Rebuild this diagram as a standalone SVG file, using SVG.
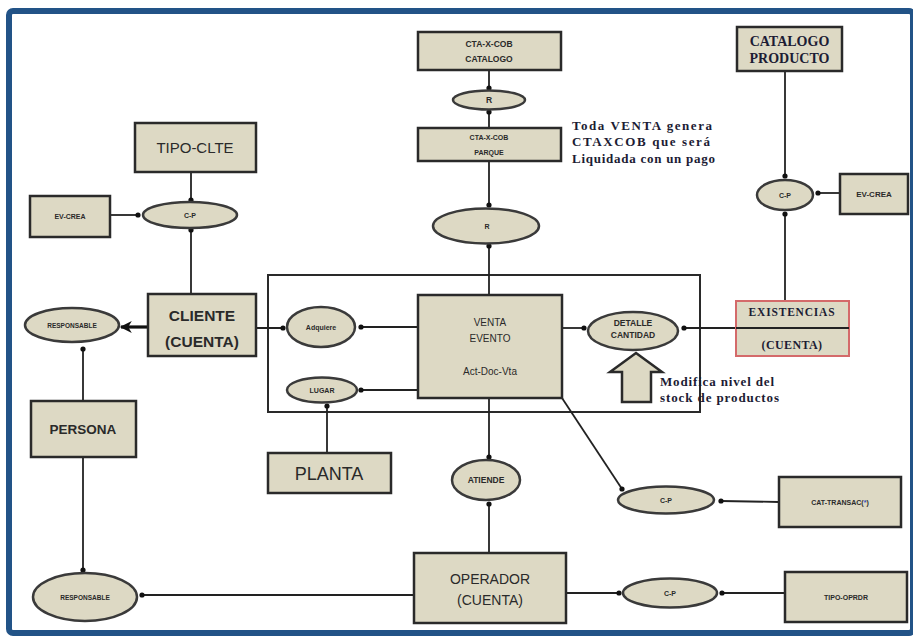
<svg xmlns="http://www.w3.org/2000/svg" width="913" height="637" viewBox="0 0 913 637">
  <style>
    .box { fill: #ddd9c4; stroke: #2a2a2a; stroke-width: 2.5; }
    .ell { fill: #ddd9c4; stroke: #3a3a3a; stroke-width: 2.5; }
    .ln { fill: none; stroke: #222; stroke-width: 1.8; }
    .sans { font-family: "Liberation Sans", Arial, sans-serif; fill: #2a2a2a; text-anchor: middle; }
    .serif { font-family: "Liberation Serif", "Times New Roman", serif; fill: #1c1c34; font-weight: bold; }
    .note { font-size: 13px; }
    .tiny { font-size: 7px; font-weight: bold; }
    .small { font-size: 8.5px; font-weight: bold; }
  </style>
  <defs>
    <marker id="dot" viewBox="0 0 6 6" refX="3" refY="3" markerWidth="6" markerHeight="6" markerUnits="userSpaceOnUse">
      <circle cx="3" cy="3" r="2.6" fill="#111"/>
    </marker>
    <marker id="arrow" viewBox="0 0 10 10" refX="9" refY="5" markerWidth="14" markerHeight="12" markerUnits="userSpaceOnUse" orient="auto">
      <path d="M0,0 L10,5 L0,10 L3,5 Z" fill="#111"/>
    </marker>
  </defs>

  <rect width="913" height="637" fill="#ffffff"/>
  <!-- outer frame -->
  <rect x="9" y="11" width="904" height="622" rx="4" fill="none" stroke="#225387" stroke-width="6"/>

  <!-- sale context border -->
  <rect x="268" y="275" width="432" height="137" fill="none" stroke="#2a2a2a" stroke-width="2"/>

  <!-- connectors -->
  <g id="connectors">
    <line class="ln" x1="489" y1="70" x2="489" y2="88" marker-end="url(#dot)"/>
    <line class="ln" x1="489" y1="128" x2="489" y2="112" marker-end="url(#dot)"/>
    <line class="ln" x1="489" y1="161" x2="489" y2="205" marker-end="url(#dot)"/>
    <line class="ln" x1="489" y1="295" x2="489" y2="246" marker-end="url(#dot)"/>
    <line class="ln" x1="191" y1="172" x2="191" y2="200" marker-end="url(#dot)"/>
    <line class="ln" x1="110" y1="215" x2="138" y2="215" marker-end="url(#dot)"/>
    <line class="ln" x1="191" y1="294" x2="191" y2="230" marker-end="url(#dot)"/>
    <line x1="148" y1="327" x2="121" y2="327" stroke="#111" stroke-width="3.2" marker-end="url(#arrow)"/>
    <line class="ln" x1="156" y1="328" x2="283" y2="328" marker-end="url(#dot)"/>
    <line class="ln" x1="418" y1="327" x2="361" y2="327" marker-end="url(#dot)"/>
    <line class="ln" x1="418" y1="390" x2="361" y2="390" marker-end="url(#dot)"/>
    <line class="ln" x1="327" y1="453" x2="327" y2="406" marker-end="url(#dot)"/>
    <line class="ln" x1="83" y1="401" x2="83" y2="349" marker-end="url(#dot)"/>
    <line class="ln" x1="83" y1="457" x2="83" y2="570" marker-end="url(#dot)"/>
    <line class="ln" x1="414" y1="595" x2="142" y2="595" marker-end="url(#dot)"/>
    <line class="ln" x1="489" y1="398" x2="489" y2="457" marker-end="url(#dot)"/>
    <line class="ln" x1="489" y1="553" x2="489" y2="504" marker-end="url(#dot)"/>
    <line class="ln" x1="562" y1="328" x2="584" y2="328" marker-end="url(#dot)"/>
    <line class="ln" x1="848" y1="328" x2="684" y2="328" marker-end="url(#dot)"/>
    <line class="ln" x1="785" y1="71" x2="785" y2="176" marker-end="url(#dot)"/>
    <line class="ln" x1="840" y1="193" x2="818" y2="193" marker-end="url(#dot)"/>
    <line class="ln" x1="785" y1="301" x2="785" y2="214" marker-end="url(#dot)"/>
    <line class="ln" x1="562" y1="398" x2="622" y2="489" marker-end="url(#dot)"/>
    <line class="ln" x1="779" y1="502" x2="721" y2="501" marker-end="url(#dot)"/>
    <line class="ln" x1="566" y1="593" x2="619" y2="593" marker-end="url(#dot)"/>
    <line class="ln" x1="785" y1="593" x2="722" y2="593" marker-end="url(#dot)"/>
  </g>

  <!-- top column -->
  <g id="cta-catalogo">
    <rect class="box" x="418" y="32" width="143" height="38"/>
    <text class="sans small" x="489" y="47">CTA-X-COB</text>
    <text class="sans small" x="489" y="62">CATALOGO</text>
  </g>
  <g id="r-top">
    <ellipse class="ell" cx="489" cy="100" rx="36" ry="9.5"/>
    <text class="sans small" x="489" y="103">R</text>
  </g>
  <g id="cta-parque">
    <rect class="box" x="418" y="128" width="143" height="33"/>
    <text class="sans tiny" x="489" y="140">CTA-X-COB</text>
    <text class="sans tiny" x="489" y="155">PARQUE</text>
  </g>
  <g id="note-venta">
    <text class="serif note" x="572" y="130" textLength="140" lengthAdjust="spacing">Toda VENTA genera</text>
    <text class="serif note" x="572" y="146" textLength="138" lengthAdjust="spacing">CTAXCOB  que será</text>
    <text class="serif note" x="572" y="163" textLength="143" lengthAdjust="spacing">Liquidada   con un pago</text>
  </g>
  <g id="r-mid">
    <ellipse class="ell" cx="486" cy="226" rx="53" ry="17.5"/>
    <text class="sans tiny" x="487" y="229">R</text>
  </g>

  <!-- left side -->
  <g id="tipo-clte">
    <rect class="box" x="135" y="123" width="121" height="49"/>
    <text class="sans" font-size="15" x="195" y="153">TIPO-CLTE</text>
  </g>
  <g id="ev-crea-left">
    <rect class="box" x="30" y="196" width="80" height="41"/>
    <text class="sans tiny" x="70" y="219">EV-CREA</text>
  </g>
  <g id="cp-cliente">
    <ellipse class="ell" cx="190" cy="215" rx="47" ry="13"/>
    <text class="sans tiny" x="190" y="218">C-P</text>
  </g>
  <g id="cliente">
    <rect class="box" x="148" y="294" width="108" height="62"/>
    <text class="sans" font-size="15.5" font-weight="bold" x="202" y="321">CLIENTE</text>
    <text class="sans" font-size="15.5" font-weight="bold" x="202" y="347">(CUENTA)</text>
  </g>
  <g id="responsable-cliente">
    <ellipse class="ell" cx="72" cy="325" rx="47" ry="17"/>
    <text class="sans" font-size="6.5" font-weight="bold" x="72" y="328">RESPONSABLE</text>
  </g>
  <g id="persona">
    <rect class="box" x="31" y="401" width="105" height="56"/>
    <text class="sans" font-size="13.5" font-weight="bold" x="83" y="434">PERSONA</text>
  </g>
  <g id="responsable-operador">
    <ellipse class="ell" cx="85" cy="597" rx="52" ry="24"/>
    <text class="sans" font-size="6.5" font-weight="bold" x="85" y="600">RESPONSABLE</text>
  </g>

  <!-- sale context -->
  <g id="adquiere">
    <ellipse class="ell" cx="321" cy="327" rx="34" ry="20"/>
    <text class="sans tiny" x="321" y="330">Adquiere</text>
  </g>
  <g id="lugar">
    <ellipse class="ell" cx="322" cy="390" rx="35" ry="12.5"/>
    <text class="sans tiny" x="322" y="393">LUGAR</text>
  </g>
  <g id="venta-evento">
    <rect class="box" x="418" y="295" width="144" height="103"/>
    <text class="sans" font-size="10" x="490" y="326">VENTA</text>
    <text class="sans" font-size="10" x="490" y="342">EVENTO</text>
    <text class="sans" font-size="10" x="490" y="375">Act-Doc-Vta</text>
  </g>
  <g id="detalle-cantidad">
    <ellipse class="ell" cx="633" cy="331" rx="45" ry="19"/>
    <text class="sans small" x="633" y="326">DETALLE</text>
    <text class="sans small" x="633" y="338">CANTIDAD</text>
  </g>
  <g id="stock-arrow">
    <path class="box" d="M636,353 L662,372 L651,372 L651,402 L622,402 L622,372 L610,372 Z" stroke-width="2"/>
    <text class="serif note" x="660" y="386" textLength="114" lengthAdjust="spacing">Modifica nivel del</text>
    <text class="serif note" x="660" y="402" textLength="119" lengthAdjust="spacing">stock de productos</text>
  </g>
  <g id="planta">
    <rect class="box" x="268" y="453" width="123" height="40"/>
    <text class="sans" font-size="18" x="329" y="480">PLANTA</text>
  </g>

  <!-- right side -->
  <g id="catalogo-producto">
    <rect class="box" x="737" y="27" width="105" height="44"/>
    <text class="serif" font-size="14" x="789.5" y="46" text-anchor="middle" fill="#1c1c30">CATALOGO</text>
    <text class="serif" font-size="14" x="789.5" y="63" text-anchor="middle" fill="#1c1c30">PRODUCTO</text>
  </g>
  <g id="cp-producto">
    <ellipse class="ell" cx="785" cy="195" rx="28" ry="15"/>
    <text class="sans tiny" x="785" y="198">C-P</text>
  </g>
  <g id="ev-crea-right">
    <rect class="box" x="840" y="174" width="68" height="40"/>
    <text class="sans" font-size="8" font-weight="bold" x="874" y="197">EV-CREA</text>
  </g>
  <g id="existencias">
    <rect x="736" y="301" width="113" height="55" fill="#ddd9c4" stroke="#d46a6a" stroke-width="2"/>
    <line x1="736" y1="328" x2="849" y2="328" stroke="#222" stroke-width="1.8"/>
    <text class="serif" font-size="11.5" x="792" y="316" text-anchor="middle" letter-spacing="0.8">EXISTENCIAS</text>
    <text class="serif" font-size="12" x="792" y="349" text-anchor="middle" font-weight="normal" fill="#333" letter-spacing="0.4">(CUENTA)</text>
  </g>
  <g id="atiende">
    <ellipse class="ell" cx="486" cy="480" rx="34" ry="20"/>
    <text class="sans small" x="486" y="483">ATIENDE</text>
  </g>
  <g id="cp-transac">
    <ellipse class="ell" cx="666" cy="500" rx="48" ry="13.5"/>
    <text class="sans tiny" x="666" y="503">C-P</text>
  </g>
  <g id="cat-transac">
    <rect class="box" x="779" y="477" width="122" height="50"/>
    <text class="sans tiny" x="840" y="505">CAT-TRANSAC(<tspan fill="#3a4fc0">*</tspan>)</text>
  </g>
  <g id="operador">
    <rect class="box" x="414" y="553" width="152" height="70"/>
    <text class="sans" font-size="14" x="490" y="584">OPERADOR</text>
    <text class="sans" font-size="14" x="490" y="605">(CUENTA)</text>
  </g>
  <g id="cp-operador">
    <ellipse class="ell" cx="670" cy="593" rx="47" ry="14.5"/>
    <text class="sans tiny" x="670" y="596">C-P</text>
  </g>
  <g id="tipo-oprdr">
    <rect class="box" x="785" y="572" width="122" height="50"/>
    <text class="sans tiny" x="846" y="600">TIPO-OPRDR</text>
  </g>
</svg>
